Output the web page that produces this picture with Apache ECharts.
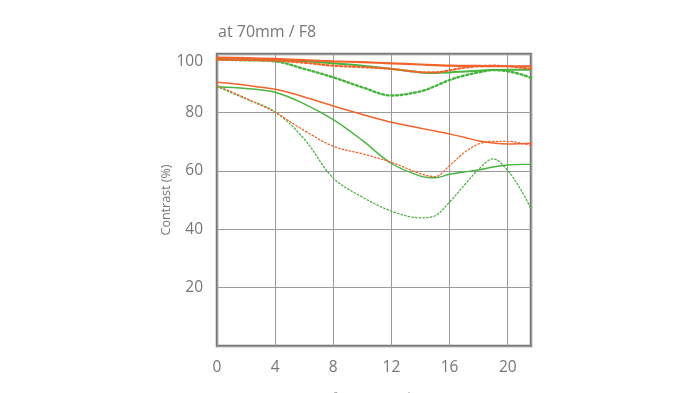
<!DOCTYPE html>
<html>
<head>
<meta charset="utf-8">
<script src="https://cdn.jsdelivr.net/npm/echarts@6/dist/echarts.min.js"></script>
<style>html,body{margin:0;padding:0;background:#fff;}#c{width:700px;height:393px;}</style>
</head>
<body>
<div id="c"></div>
<script>
const titleText = 'at 70mm / F8';
const yName = 'Contrast (%)';
const xName = 'Distance from optical center (mm)';
const xs = [0, 2, 4, 6, 8, 10, 12, 14, 15, 16, 17, 18, 19, 20, 21, 21.6];
const orangeSolidTop = [98.8, 98.6, 98.3, 97.9, 97.5, 97.2, 96.8, 96.4, 96.2, 96.0, 95.9, 95.9, 95.8, 95.8, 95.8, 95.8];
const greenSolidTop  = [98.3, 98.2, 98.0, 97.5, 96.8, 96.0, 94.9, 93.7, 93.5, 93.7, 94.0, 94.3, 94.5, 94.6, 94.6, 94.6];
const orangeDotTop   = [98.0, 97.9, 97.7, 97.0, 96.0, 95.5, 94.9, 93.8, 93.7, 94.4, 95.3, 95.8, 96.0, 95.8, 95.3, 94.9];
const greenDotTop    = [98.0, 97.9, 97.5, 94.9, 92.0, 88.6, 85.8, 87.2, 89.0, 91.1, 92.6, 93.7, 94.5, 94.1, 92.9, 91.8];
const orangeSolidLow = [90.3, 89.3, 87.9, 85.3, 82.2, 79.3, 76.6, 74.6, 73.6, 72.6, 71.5, 70.2, 69.5, 69.2, 69.3, 69.4];
const greenSolidLow  = [88.8, 88.2, 86.9, 82.9, 77.5, 70.4, 62.5, 58.2, 57.6, 58.8, 59.6, 60.3, 61.3, 62.0, 62.2, 62.2];
const orangeDotLow   = [89.2, 84.8, 80.0, 73.8, 68.4, 65.8, 62.9, 59.0, 58.0, 61.8, 66.2, 69.2, 70.1, 70.1, 69.4, 68.6];
const greenDotLow    = [88.8, 84.6, 80.2, 70.9, 57.5, 51.0, 46.2, 43.9, 44.6, 49.3, 55.0, 60.5, 64.1, 60.1, 52.7, 47.0];

const ORANGE = '#f2622a';
const GREEN = '#48b43f';
const FONT = 'Open Sans';

function mk(name, arr, color, width, dash) {
  return {
    name: name, type: 'line', smooth: 0.35, symbol: 'none', silent: true,
    data: xs.map((x, i) => [x, arr[i]]),
    lineStyle: { color: color, width: width, type: dash || 'solid', cap: 'round' }
  };
}

const chart = echarts.init(document.getElementById('c'), null, { renderer: 'canvas' });
chart.setOption({
  animation: false,
  backgroundColor: '#fff',
  title: {
    text: titleText, left: 213, top: 19,
    textStyle: { fontFamily: FONT, fontSize: 16, fontWeight: 'normal', color: '#777' }
  },
  grid: {
    left: 217, right: 169, top: 54, bottom: 47,
    outerBoundsMode: 'none', containLabel: false,
    show: true, borderColor: '#777', borderWidth: 2.5, backgroundColor: 'transparent'
  },
  xAxis: {
    type: 'value', min: 0, max: 21.6, interval: 4,
    name: xName, nameLocation: 'middle', nameGap: 46,
    nameTextStyle: { fontFamily: FONT, fontSize: 14, color: '#aaa', padding: [0, 0, 0, 18] },
    axisLine: { show: false }, axisTick: { show: false },
    axisLabel: { fontFamily: FONT, fontSize: 15.5, color: '#777', margin: 14, showMaxLabel: false },
    splitLine: { show: true, lineStyle: { color: '#9a9a9a', width: 1 } }
  },
  yAxis: {
    type: 'value', min: 0, max: 100, interval: 20,
    name: yName, nameLocation: 'middle', nameGap: 41, nameRotate: 90,
    nameTextStyle: { fontFamily: FONT, fontSize: 12.5, color: '#777' },
    axisLine: { show: false }, axisTick: { show: false },
    axisLabel: {
      fontFamily: FONT, fontSize: 15.5, color: '#777', margin: 14,
      formatter: v => v === 0 ? '' : (v === 100 ? '{t|100}' : String(v)),
      rich: { t: { fontFamily: FONT, fontSize: 15.5, color: '#777', padding: [16, 0, 0, 0] } }
    },
    splitLine: { show: true, lineStyle: { color: '#9a9a9a', width: 1 } }
  },
  series: [
    mk('g-dot-low', greenDotLow, GREEN, 1.3, [1.5, 2.2]),
    mk('g-sol-low', greenSolidLow, GREEN, 1.4),
    mk('o-dot-low', orangeDotLow, ORANGE, 1.3, [1.5, 2.2]),
    mk('o-sol-low', orangeSolidLow, ORANGE, 1.5),
    mk('g-dot-top', greenDotTop, GREEN, 2.4, [2, 2.6]),
    mk('g-sol-top', greenSolidTop, GREEN, 2),
    mk('o-dot-top', orangeDotTop, ORANGE, 2.2, [2, 2.4]),
    mk('o-sol-top', orangeSolidTop, ORANGE, 2.2)
  ]
});
</script>
</body>
</html>
